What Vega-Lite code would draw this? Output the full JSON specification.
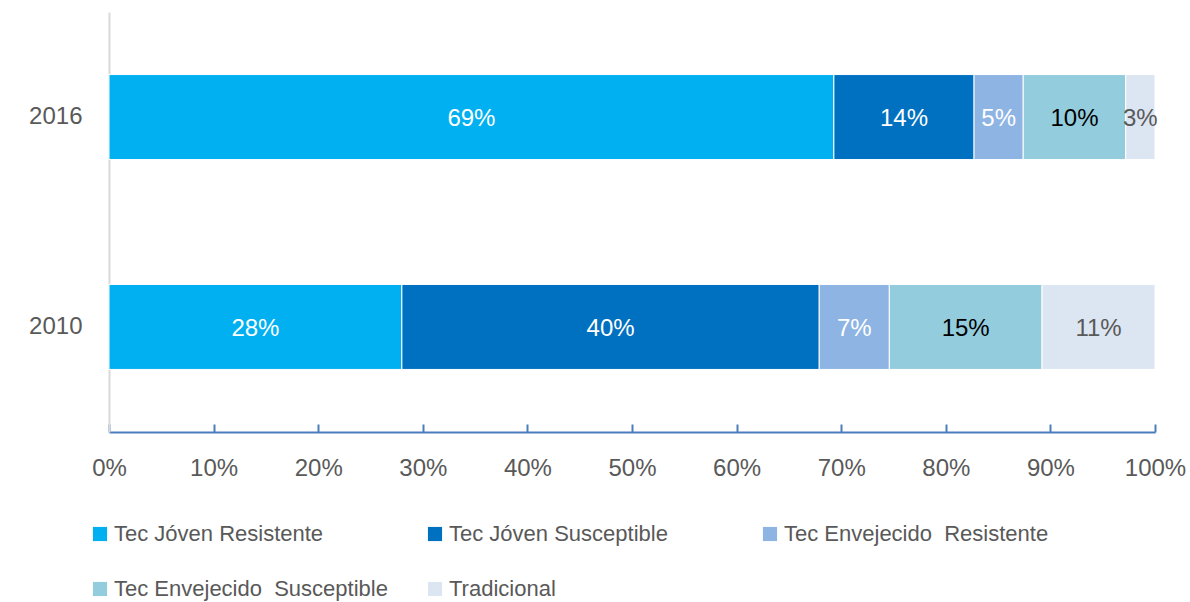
{
  "$schema": "https://vega.github.io/schema/vega-lite/v6.json",
  "autosize": {"type": "none"},
  "width": 1046,
  "height": 420,
  "padding": {"left": 109, "top": 12, "right": 35, "bottom": 170},
  "background": "white",
  "config": {
    "view": {"stroke": null},
    "font": "Liberation Sans",
    "axis": {"grid": false, "labelFont": "Liberation Sans", "labelColor": "#595959", "title": null}
  },
  "data": {
    "values": [
      {"year": "2016", "series": "Tec Jóven Resistente", "k": 1, "value": 69.3, "label": "69%"},
      {"year": "2016", "series": "Tec Jóven Susceptible", "k": 2, "value": 13.4, "label": "14%"},
      {"year": "2016", "series": "Tec Envejecido\u00a0 Resistente", "k": 3, "value": 4.7, "label": "5%"},
      {"year": "2016", "series": "Tec Envejecido\u00a0 Susceptible", "k": 4, "value": 9.8, "label": "10%"},
      {"year": "2016", "series": "Tradicional", "k": 5, "value": 2.8, "label": "3%"},
      {"year": "2010", "series": "Tec Jóven Resistente", "k": 1, "value": 28.0, "label": "28%"},
      {"year": "2010", "series": "Tec Jóven Susceptible", "k": 2, "value": 39.9, "label": "40%"},
      {"year": "2010", "series": "Tec Envejecido\u00a0 Resistente", "k": 3, "value": 6.7, "label": "7%"},
      {"year": "2010", "series": "Tec Envejecido\u00a0 Susceptible", "k": 4, "value": 14.6, "label": "15%"},
      {"year": "2010", "series": "Tradicional", "k": 5, "value": 10.8, "label": "11%"}
    ]
  },
  "encoding": {
    "y": {
      "field": "year", "type": "nominal", "sort": ["2016", "2010"],
      "scale": {"paddingInner": 0.595, "paddingOuter": 0.298},
      "axis": {"ticks": false, "domainColor": "#D9D9D9", "domainWidth": 2, "labelFontSize": 24, "labelPadding": 27}
    }
  },
  "layer": [
    {
      "mark": {"type": "bar", "stroke": "white", "strokeWidth": 1},
      "encoding": {
        "x": {
          "field": "value", "type": "quantitative", "stack": "normalize",
          "scale": {"domain": [0, 1], "nice": false},
          "axis": {
            "values": [0, 0.1, 0.2, 0.3, 0.4, 0.5, 0.6, 0.7, 0.8, 0.9, 1],
            "format": ".0%", "domainColor": "#4A7EBB", "domainWidth": 2,
            "tickColor": "#4A7EBB", "tickWidth": 2, "tickSize": -8,
            "labelFontSize": 24, "labelPadding": 32, "labelFlush": false
          }
        },
        "order": {"field": "k", "type": "quantitative"},
        "color": {
          "field": "series", "type": "nominal",
          "scale": {
            "domain": ["Tec Jóven Resistente", "Tec Jóven Susceptible", "Tec Envejecido\u00a0 Resistente", "Tec Envejecido\u00a0 Susceptible", "Tradicional"],
            "range": ["#00B0F0", "#0070C0", "#8EB4E3", "#93CDDD", "#DCE6F2"]
          },
          "legend": {
            "title": null, "orient": "none", "legendX": -20, "legendY": 511,
            "direction": "horizontal", "columns": 3, "gridAlign": "all",
            "columnPadding": 36, "rowPadding": 33, "padding": 0,
            "symbolType": "square", "symbolSize": 200, "symbolStrokeWidth": 0,
            "symbolOffset": 0, "labelOffset": 3,
            "labelFont": "Liberation Sans", "labelFontSize": 22, "labelColor": "#595959",
            "labelLimit": 400
          }
        }
      }
    },
    {
      "mark": {"type": "text", "fontSize": 24, "baseline": "middle", "align": "center", "font": "Liberation Sans", "dy": 2},
      "encoding": {
        "x": {"field": "value", "type": "quantitative", "stack": "normalize", "bandPosition": 0.5},
        "order": {"field": "k", "type": "quantitative"},
        "text": {"field": "label", "type": "nominal"},
        "color": {
          "field": "series", "type": "nominal",
          "scale": {
            "domain": ["Tec Jóven Resistente", "Tec Jóven Susceptible", "Tec Envejecido\u00a0 Resistente", "Tec Envejecido\u00a0 Susceptible", "Tradicional"],
            "range": ["#FFFFFF", "#FFFFFF", "#FFFFFF", "#000000", "#595959"]
          },
          "legend": null
        }
      }
    }
  ],
  "resolve": {"scale": {"color": "independent"}}
}
